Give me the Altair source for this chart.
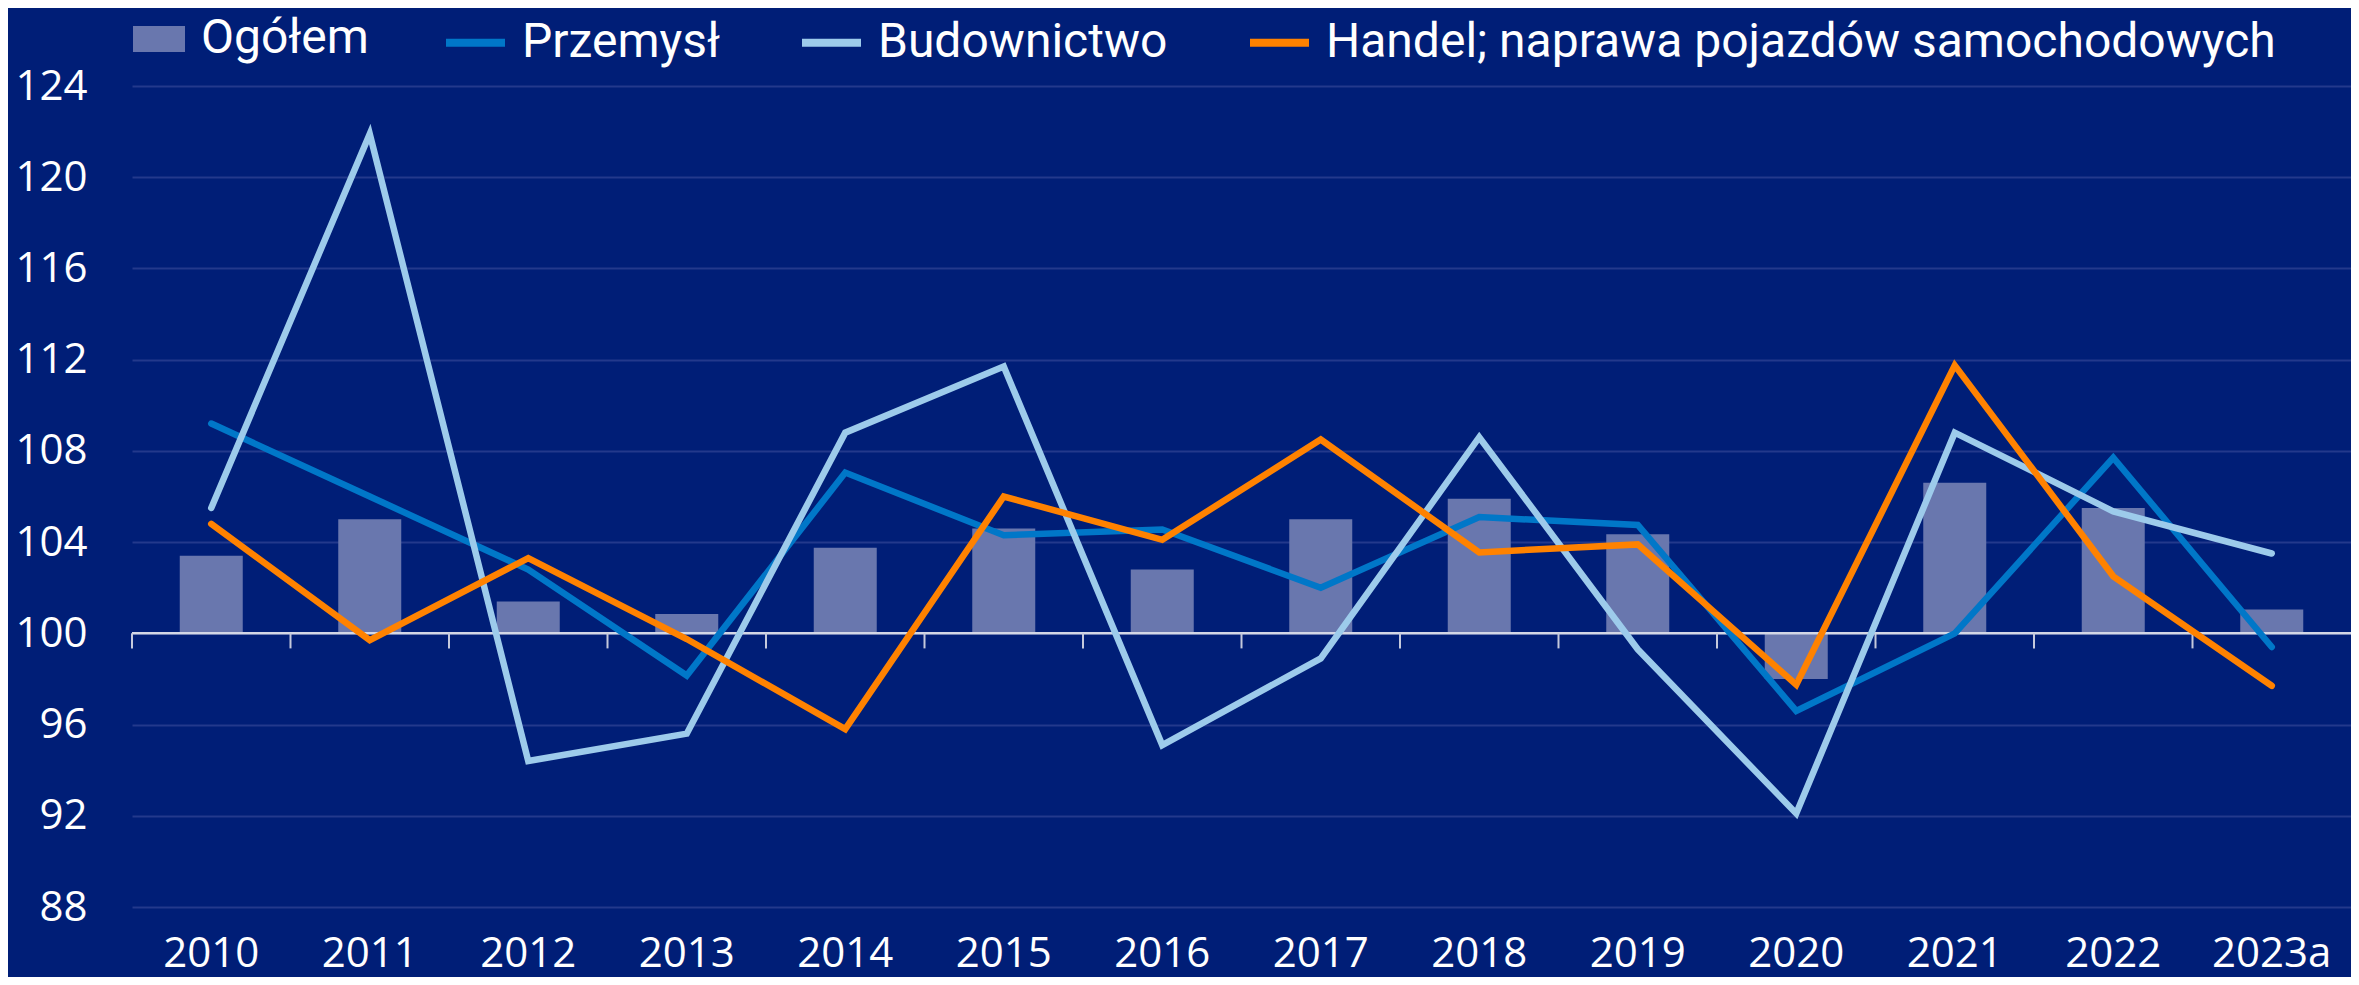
import altair as alt
import pandas as pd

years = ["2010", "2011", "2012", "2013", "2014", "2015", "2016",
         "2017", "2018", "2019", "2020", "2021", "2022", "2023a"]

ogolem = [103.4, 105.0, 101.4, 100.85, 103.75, 104.6, 102.8,
          105.0, 105.9, 104.35, 98.0, 106.6, 105.5, 101.05]
przemysl = [109.2, 106.0, 102.8, 98.15, 107.05, 104.3, 104.55,
            102.0, 105.1, 104.75, 96.6, 100.0, 107.7, 99.4]
budownictwo = [105.5, 121.9, 94.4, 95.6, 108.8, 111.7, 95.1,
               98.9, 108.6, 99.3, 92.1, 108.8, 105.35, 103.5]
handel = [104.8, 99.7, 103.3, 99.75, 95.8, 106.0, 104.1,
          108.5, 103.55, 103.9, 97.75, 111.75, 102.5, 97.7]

bar_name = "Ogółem"
line_names = ["Przemysł", "Budownictwo", "Handel; naprawa pojazdów samochodowych"]
line_colors = ["#0077C8", "#9DCBEB", "#FF8200"]
y_ticks = [88, 92, 96, 100, 104, 108, 112, 116, 120, 124]

W, H = 2219, 821
FONT = "Open Sans"
LEG_FONT = "Roboto"

bars_df = pd.DataFrame({"year": years, "value": ogolem, "s": bar_name})
rows = []
for name, vals in zip(line_names, [przemysl, budownictwo, handel]):
    for y, v in zip(years, vals):
        rows.append({"year": y, "value": v, "series": name})
lines_df = pd.DataFrame(rows)
ticks_df = pd.DataFrame({"year": years})
base_df = pd.DataFrame({"b": [100]})

x_enc = alt.X("year:N", sort=years,
              scale=alt.Scale(paddingInner=0, paddingOuter=0),
              axis=alt.Axis(title=None, labelAngle=0, ticks=False, domain=False,
                            labelFontSize=42, labelFont=FONT, labelColor="white",
                            labelPadding=26, grid=False))
y_scale = alt.Scale(domain=[88, 124], nice=False, zero=False)
y_enc = alt.Y("value:Q", scale=y_scale,
              axis=alt.Axis(title=None, values=y_ticks, ticks=False, domain=False,
                            labelFontSize=42, labelFont=FONT, labelColor="white",
                            labelPadding=45, grid=True, gridColor="#23398C",
                            gridWidth=2))

bars = alt.Chart(bars_df).mark_bar(size=63).encode(
    x=x_enc,
    y=y_enc,
    y2=alt.datum(100),
    fill=alt.Fill("s:N", scale=alt.Scale(domain=[bar_name], range=["#6977AE"]),
                  legend=alt.Legend(title=None, orient="none", legendX=1, legendY=-73,
                                    symbolType="M-1,-0.5H1V0.5H-1Z", symbolSize=2704,
                                    symbolStrokeWidth=0, labelOffset=16,
                                    labelFontSize=48, labelFont=LEG_FONT,
                                    labelColor="white", labelLimit=2000, padding=0)),
)

base_rule = alt.Chart(base_df).mark_rule(color="#D3D7E6", strokeWidth=2.5).encode(
    y=alt.datum(100)
)

tick_rules = alt.Chart(ticks_df).mark_rule(color="#C4C9DC", strokeWidth=2).encode(
    x=alt.X("year:N", sort=years, bandPosition=0),
    y=alt.datum(100),
    y2=alt.datum(99.34),
)

lines = alt.Chart(lines_df).mark_line(strokeWidth=6.5, strokeCap="round").encode(
    x=alt.X("year:N", sort=years),
    y=alt.Y("value:Q", scale=y_scale),
    stroke=alt.Stroke("series:N", sort=line_names,
                      scale=alt.Scale(domain=line_names, range=line_colors),
                      legend=alt.Legend(title=None, orient="none", direction="horizontal",
                                        legendX=310, legendY=-77,
                                        symbolType="stroke", symbolSize=3481,
                                        symbolStrokeWidth=8, labelOffset=13,
                                        columnPadding=66,
                                        labelFontSize=48, labelFont=LEG_FONT,
                                        labelColor="white", labelLimit=3000,
                                        padding=0)),
    order=alt.Order("series:N", sort="descending"),
)

chart = alt.layer(bars, base_rule, tick_rules, lines).properties(
    width=W, height=H,
    padding={"left": 124, "top": 78, "right": 0, "bottom": 70},
    autosize=alt.AutoSizeParams(type="none"),
    background="#001E77",
).configure_view(stroke=None)

chart.save("out.html", embed_options={"renderer": "svg", "actions": False})
